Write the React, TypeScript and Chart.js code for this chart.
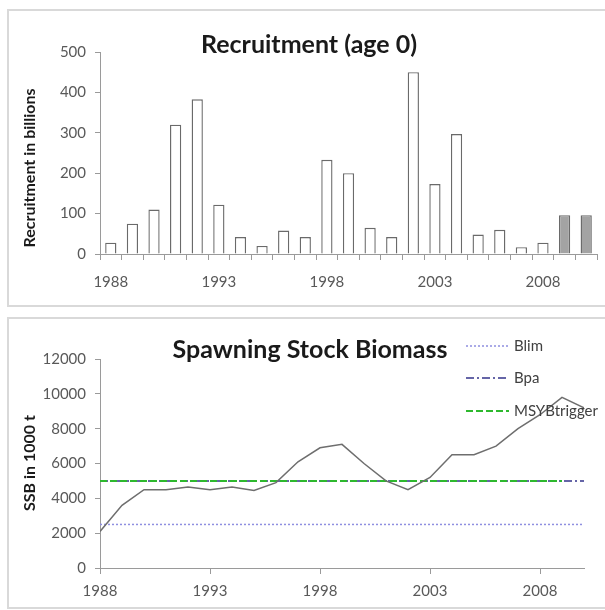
import React, { useEffect, useRef } from "react";
import { Chart, registerables } from "chart.js";

Chart.register(...registerables);

// ---------- data ----------
const YEARS = [
  1988, 1989, 1990, 1991, 1992, 1993, 1994, 1995, 1996, 1997, 1998, 1999,
  2000, 2001, 2002, 2003, 2004, 2005, 2006, 2007, 2008, 2009, 2010,
];
const RECRUITMENT = [
  28, 75, 110, 320, 383, 122, 42, 20, 58, 42, 233, 200, 65, 42, 450, 173, 297,
  48, 60, 17, 28, 96, 96,
];
const PROJECTED_YEARS = [2009, 2010];
const LABELED_YEARS = [1988, 1993, 1998, 2003, 2008];

const SSB = [
  2100, 3600, 4500, 4500, 4650, 4500, 4650, 4450, 4900, 6100, 6900, 7100,
  6000, 5000, 4500, 5200, 6500, 6500, 7000, 8000, 8800, 9800, 9200,
];
const BLIM = 2500;
const BPA = 5000;
const MSY_BTRIGGER = 5000;
const REF_START = 1988;
const BLIM_END = 2010;
const BPA_END = 2010;
const MSY_END = 2009;

const RECRUIT_MAX = 500;
const RECRUIT_STEP = 100;
const SSB_MAX = 12000;
const SSB_STEP = 2000;
const X_MIN = 1988;
const X_MAX = 2010;

// ---------- styles ----------
const FONT = "Lato, 'Open Sans', sans-serif";
const TICK_COLOR = "#595959";
const AXIS_COLOR = "#9a9a9a";
const TEXT_DARK = "#1a1a1a";

const BLIM_COLOR = "#8f8fe0";
const BPA_COLOR = "#33338a";
const MSY_COLOR = "#2eb82e";
const SSB_COLOR = "#6e6e6e";

type TextSpec = {
  title: string;
  titleX: number;
  titleY: number;
  yTitle: string;
  yTitleX: number;
  yTitleY: number;
};

function drawTexts(ctx: CanvasRenderingContext2D, t: TextSpec) {
  ctx.save();
  ctx.fillStyle = TEXT_DARK;
  ctx.font = `bold 25px ${FONT}`;
  ctx.textAlign = "center";
  ctx.textBaseline = "alphabetic";
  ctx.fillText(t.title, t.titleX, t.titleY);
  ctx.restore();

  ctx.save();
  ctx.fillStyle = TEXT_DARK;
  ctx.font = `bold 16px ${FONT}`;
  ctx.translate(t.yTitleX, t.yTitleY);
  ctx.rotate(-Math.PI / 2);
  ctx.textAlign = "center";
  ctx.textBaseline = "middle";
  ctx.fillText(t.yTitle, 0, 0);
  ctx.restore();
}

function RecruitmentChart() {
  const ref = useRef<HTMLCanvasElement>(null);
  useEffect(() => {
    if (!ref.current) return;
    const overlay = {
      id: "overlay",
      afterDraw(chart: any) {
        drawTexts(chart.ctx, {
          title: "Recruitment (age 0)",
          titleX: 301,
          titleY: 43,
          yTitle: "Recruitment in billions",
          yTitleX: 22,
          yTitleY: 158,
        });
      },
    };
    const chart = new Chart(ref.current, {
      type: "bar",
      data: {
        labels: YEARS.map(String),
        datasets: [
          {
            data: RECRUITMENT,
            backgroundColor: YEARS.map((y) =>
              PROJECTED_YEARS.includes(y) ? "#a3a3a3" : "#ffffff"
            ),
            borderColor: "#6a6a6a",
            borderWidth: 1.4,
            barPercentage: 0.52,
            categoryPercentage: 1,
          },
        ],
      },
      options: {
        responsive: false,
        animation: false,
        devicePixelRatio: 1,
        layout: { padding: { top: 42, right: 8, left: 0, bottom: 0 } },
        plugins: {
          legend: { display: false },
          tooltip: { enabled: false },
          title: { display: false },
        },
        scales: {
          x: {
            type: "category",
            offset: true,
            afterFit(scale: any) {
              scale.height = 52;
            },
            border: { color: AXIS_COLOR, width: 1 },
            grid: {
              offset: true,
              drawOnChartArea: false,
              drawTicks: true,
              tickLength: 6,
              color: AXIS_COLOR,
            },
            ticks: {
              autoSkip: false,
              maxRotation: 0,
              padding: 13,
              color: TICK_COLOR,
              font: { family: FONT, size: 15 },
              callback: (_v: any, idx: number) =>
                LABELED_YEARS.includes(YEARS[idx]) ? String(YEARS[idx]) : "",
            },
          },
          y: {
            min: 0,
            max: RECRUIT_MAX,
            afterFit(scale: any) {
              scale.width = 92;
            },
            border: { color: AXIS_COLOR, width: 1 },
            grid: {
              drawOnChartArea: false,
              drawTicks: true,
              tickLength: 5,
              color: AXIS_COLOR,
            },
            ticks: {
              stepSize: RECRUIT_STEP,
              padding: 9,
              color: TICK_COLOR,
              font: { family: FONT, size: 15 },
              callback: (v: any) => String(v),
            },
          },
        },
      },
      plugins: [overlay],
    } as any);
    return () => chart.destroy();
  }, []);
  return (
    <canvas
      ref={ref}
      width={597}
      height={296}
      style={{ position: "absolute", left: 8, top: 10, width: 597, height: 296 }}
    />
  );
}

function SSBChart() {
  const ref = useRef<HTMLCanvasElement>(null);
  useEffect(() => {
    if (!ref.current) return;
    const legendItems = [
      { label: "Blim", color: BLIM_COLOR, dash: [2, 2], width: 1.5, y: 28 },
      { label: "Bpa", color: BPA_COLOR, dash: [8, 3, 2, 3], width: 1.5, y: 60 },
      { label: "MSYBtrigger", color: MSY_COLOR, dash: [7, 3], width: 2, y: 93 },
    ];
    const overlay = {
      id: "overlay",
      afterDraw(chart: any) {
        const ctx: CanvasRenderingContext2D = chart.ctx;
        drawTexts(ctx, {
          title: "Spawning Stock Biomass",
          titleX: 302,
          titleY: 40,
          yTitle: "SSB in 1000 t",
          yTitleX: 22,
          yTitleY: 145,
        });
        ctx.save();
        for (const it of legendItems) {
          ctx.beginPath();
          ctx.setLineDash(it.dash);
          ctx.strokeStyle = it.color;
          ctx.lineWidth = it.width;
          ctx.moveTo(458, it.y);
          ctx.lineTo(501, it.y);
          ctx.stroke();
          ctx.setLineDash([]);
          ctx.fillStyle = "#404040";
          ctx.font = `15px ${FONT}`;
          ctx.textAlign = "left";
          ctx.textBaseline = "middle";
          ctx.fillText(it.label, 506, it.y);
        }
        ctx.restore();
      },
    };
    const ref2 = (v: number, end: number) => [
      { x: REF_START, y: v },
      { x: end, y: v },
    ];
    const chart = new Chart(ref.current, {
      type: "line",
      data: {
        datasets: [
          {
            label: "SSB",
            data: YEARS.map((y, i) => ({ x: y, y: SSB[i] })),
            borderColor: SSB_COLOR,
            borderWidth: 1.5,
            pointRadius: 0,
            tension: 0,
          },
          {
            label: "MSYBtrigger",
            data: ref2(MSY_BTRIGGER, MSY_END),
            borderColor: MSY_COLOR,
            borderWidth: 2,
            borderDash: [7, 3],
            pointRadius: 0,
          },
          {
            label: "Bpa",
            data: ref2(BPA, BPA_END),
            borderColor: BPA_COLOR,
            borderWidth: 1.5,
            borderDash: [8, 3, 2, 3],
            pointRadius: 0,
          },
          {
            label: "Blim",
            data: ref2(BLIM, BLIM_END),
            borderColor: BLIM_COLOR,
            borderWidth: 1.5,
            borderDash: [2, 2],
            pointRadius: 0,
          },
        ],
      },
      options: {
        responsive: false,
        animation: false,
        devicePixelRatio: 1,
        layout: { padding: { top: 41, right: 21, left: 0, bottom: 0 } },
        plugins: {
          legend: { display: false },
          tooltip: { enabled: false },
          title: { display: false },
        },
        scales: {
          x: {
            type: "linear",
            min: X_MIN,
            max: X_MAX,
            afterFit(scale: any) {
              scale.height = 40;
            },
            afterBuildTicks(scale: any) {
              scale.ticks = LABELED_YEARS.map((v) => ({ value: v }));
            },
            border: { color: AXIS_COLOR, width: 1 },
            grid: {
              drawOnChartArea: false,
              drawTicks: true,
              tickLength: 6,
              color: AXIS_COLOR,
            },
            ticks: {
              maxRotation: 0,
              padding: 8,
              color: TICK_COLOR,
              font: { family: FONT, size: 15 },
              callback: (v: any) => String(v),
            },
          },
          y: {
            min: 0,
            max: SSB_MAX,
            afterFit(scale: any) {
              scale.width = 92;
            },
            border: { color: AXIS_COLOR, width: 1 },
            grid: {
              drawOnChartArea: false,
              drawTicks: true,
              tickLength: 5,
              color: AXIS_COLOR,
            },
            ticks: {
              stepSize: SSB_STEP,
              padding: 9,
              color: TICK_COLOR,
              font: { family: FONT, size: 15 },
              callback: (v: any) => String(v),
            },
          },
        },
      },
      plugins: [overlay],
    } as any);
    return () => chart.destroy();
  }, []);
  return (
    <canvas
      ref={ref}
      width={597}
      height={290}
      style={{ position: "absolute", left: 8, top: 318, width: 597, height: 290 }}
    />
  );
}

export default function App() {
  const panel: React.CSSProperties = {
    position: "absolute",
    left: 7,
    width: 610,
    border: "2px solid #d9d9d9",
    boxSizing: "border-box",
    background: "#ffffff",
  };
  return (
    <div
      style={{
        position: "fixed",
        left: 0,
        top: 0,
        width: 605,
        height: 610,
        background: "#ffffff",
        overflow: "hidden",
      }}
    >
      <div style={{ ...panel, top: 9, height: 298 }} />
      <div style={{ ...panel, top: 317, height: 292 }} />
      <RecruitmentChart />
      <SSBChart />
    </div>
  );
}
